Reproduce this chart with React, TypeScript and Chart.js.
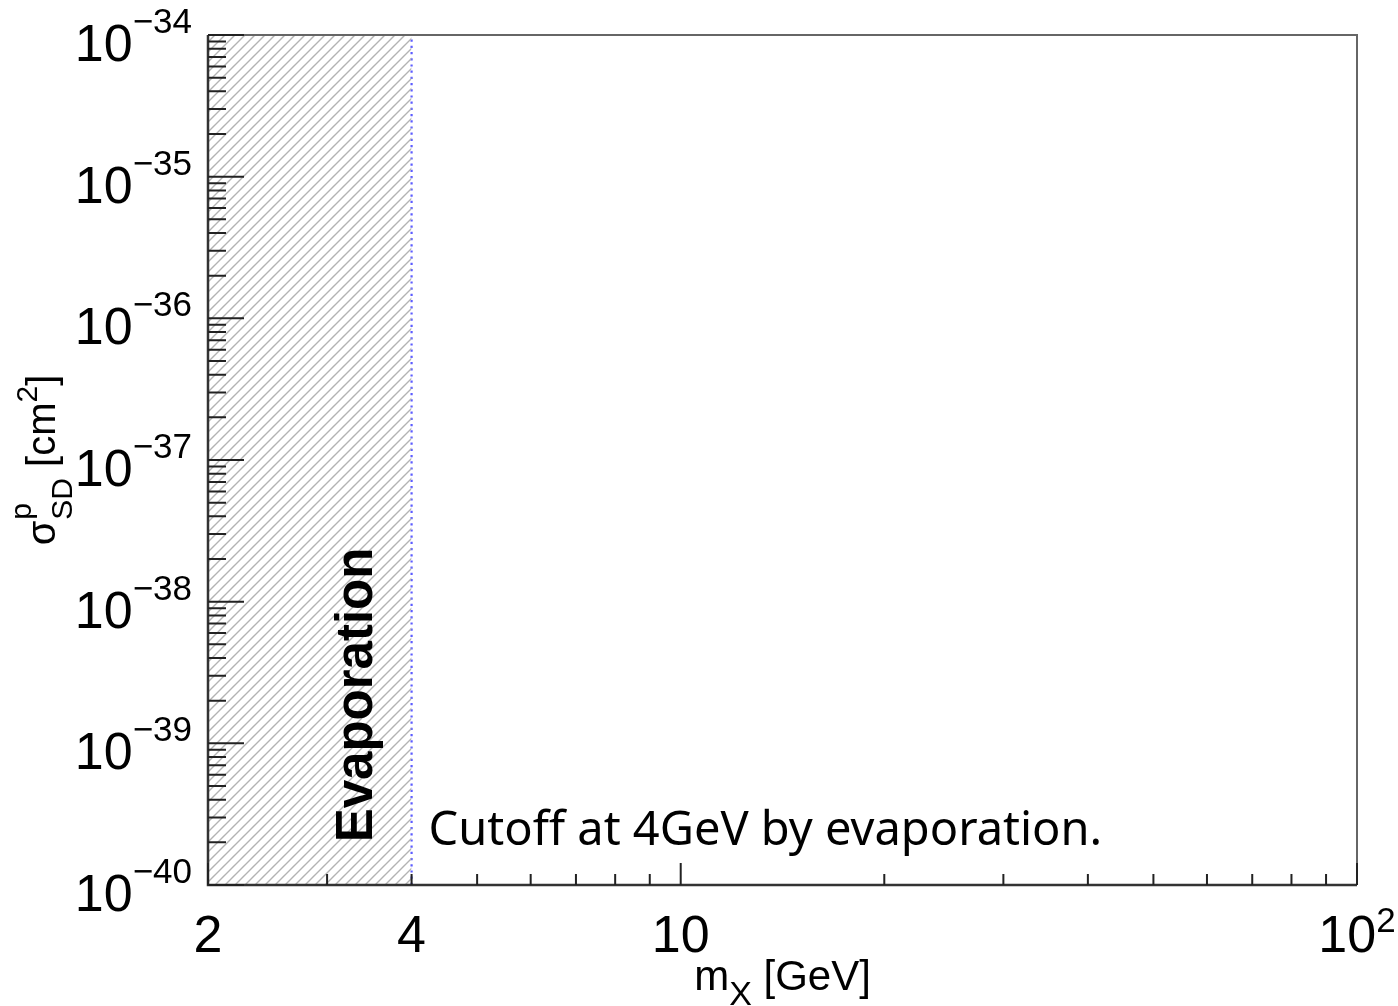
import React, { useEffect, useRef } from 'react';
import { Chart, registerables } from 'chart.js';

Chart.register(...registerables);

const CANVAS_W = 1398;
const CANVAS_H = 1006;

// ---- data ----
const massRange = [2, 100];
const sigmaRange = [1e-40, 1e-34];
const evaporationMass = [2, 4];
const evaporationSigma = [1e-34, 1e-34];
const cutoffMass = [4, 4];
const cutoffSigma = [1e-40, 1e-34];

const xMajorTicks = [2, 10, 100];
const xMinorTicks = [3, 4, 5, 6, 7, 8, 9, 20, 30, 40, 50, 60, 70, 80, 90];
const xLabelValues = [2, 4, 10, 100];
const xLabelBases = ['2', '4', '10', '10'];
const xLabelExponents = ['', '', '', '2'];

const yExponents = [-40, -39, -38, -37, -36, -35, -34];
const yMinorMantissas = [2, 3, 4, 5, 6, 7, 8, 9];

const evaporationLabel = 'Evaporation';
const cutoffNote = 'Cutoff at 4GeV by evaporation.';

const HELV = '"Liberation Sans", Arial, Helvetica, sans-serif';

function makeHatch(): CanvasPattern | string {
  const c = document.createElement('canvas');
  const s = 10;
  c.width = s;
  c.height = s;
  const g = c.getContext('2d');
  if (!g) return '#ddd';
  g.strokeStyle = '#b3b3b3';
  g.lineWidth = 1.4;
  g.beginPath();
  g.moveTo(0, s);
  g.lineTo(s, 0);
  g.moveTo(-2, 2);
  g.lineTo(2, -2);
  g.moveTo(s - 2, s + 2);
  g.lineTo(s + 2, s - 2);
  g.stroke();
  const p = g.createPattern(c, 'repeat');
  return p || '#ddd';
}

const rootStylePlugin = {
  id: 'rootStyle',
  afterDraw(chart: any) {
    const { ctx, chartArea: a, scales } = chart;
    const xs = scales.x;
    const ys = scales.y;
    ctx.save();

    // frame
    ctx.lineCap = 'butt';
    ctx.strokeStyle = '#666';
    ctx.lineWidth = 2;
    ctx.beginPath();
    ctx.moveTo(a.left, a.top);
    ctx.lineTo(a.right, a.top);
    ctx.lineTo(a.right, a.bottom);
    ctx.stroke();
    ctx.strokeStyle = '#333';
    ctx.lineWidth = 2.5;
    ctx.beginPath();
    ctx.moveTo(a.left, a.top);
    ctx.lineTo(a.left, a.bottom);
    ctx.lineTo(a.right, a.bottom);
    ctx.stroke();

    // ticks
    ctx.strokeStyle = '#222';
    ctx.lineWidth = 2;
    ctx.beginPath();
    yExponents.forEach((e) => {
      const py = ys.getPixelForValue(Math.pow(10, e));
      ctx.moveTo(a.left, py);
      ctx.lineTo(a.left + 36, py);
      if (e < yExponents[yExponents.length - 1]) {
        yMinorMantissas.forEach((m) => {
          const pm = ys.getPixelForValue(m * Math.pow(10, e));
          ctx.moveTo(a.left, pm);
          ctx.lineTo(a.left + 18, pm);
        });
      }
    });
    xMajorTicks.forEach((v) => {
      const px = xs.getPixelForValue(v);
      ctx.moveTo(px, a.bottom);
      ctx.lineTo(px, a.bottom - 22);
    });
    xMinorTicks.forEach((v) => {
      const px = xs.getPixelForValue(v);
      ctx.moveTo(px, a.bottom);
      ctx.lineTo(px, a.bottom - 11);
    });
    ctx.stroke();

    // y tick labels
    ctx.fillStyle = '#000';
    ctx.textBaseline = 'alphabetic';
    const labelRight = a.left - 16;
    yExponents.forEach((e) => {
      const py = ys.getPixelForValue(Math.pow(10, e));
      const sup = '\u2212' + Math.abs(e);
      ctx.font = `35px ${HELV}`;
      ctx.textAlign = 'right';
      const supW = ctx.measureText(sup).width;
      ctx.fillText(sup, labelRight, py - 2);
      ctx.font = `52px ${HELV}`;
      ctx.fillText('10', labelRight - supW, py + 26);
    });

    // x tick labels
    xLabelValues.forEach((v, i) => {
      const px = xs.getPixelForValue(v);
      const base = xLabelBases[i];
      const exp = xLabelExponents[i];
      ctx.textAlign = 'left';
      ctx.font = `52px ${HELV}`;
      const bw = ctx.measureText(base).width;
      ctx.font = `35px ${HELV}`;
      const ew = exp ? ctx.measureText(exp).width : 0;
      const start = px - (bw + ew) / 2;
      ctx.font = `52px ${HELV}`;
      ctx.fillText(base, start, a.bottom + 67);
      if (exp) {
        ctx.font = `35px ${HELV}`;
        ctx.fillText(exp, start + bw, a.bottom + 47);
      }
    });

    // x title: m_X [GeV]
    {
      const parts: [string, string, number][] = [
        ['m', `42px ${HELV}`, 0],
        ['X', `34px ${HELV}`, 15],
        [' [GeV]', `42px ${HELV}`, 0],
      ];
      let total = 0;
      const widths = parts.map(([t, f]) => {
        ctx.font = f;
        const w = ctx.measureText(t).width;
        total += w;
        return w;
      });
      let cx = (a.left + a.right) / 2 - total / 2;
      const base = a.bottom + 105;
      ctx.textAlign = 'left';
      parts.forEach(([t, f, dy], i) => {
        ctx.font = f;
        ctx.fillText(t, cx, base + dy);
        cx += widths[i];
      });
    }

    // y title: sigma^p_SD [cm^2]
    {
      const main = `40px ${HELV}`;
      const small = `30px ${HELV}`;
      ctx.font = main;
      const wSig = ctx.measureText('\u03c3').width;
      const wOpen = ctx.measureText(' [cm').width;
      const wClose = ctx.measureText(']').width;
      ctx.font = small;
      const wP = ctx.measureText('p').width;
      const wSD = ctx.measureText('SD').width;
      const w2 = ctx.measureText('2').width;
      const total = wSig + 1 + Math.max(wP, wSD) + wOpen + w2 + wClose;
      ctx.save();
      ctx.translate(55, (a.top + a.bottom) / 2);
      ctx.rotate(-Math.PI / 2);
      ctx.textAlign = 'left';
      let u = -total / 2;
      ctx.font = main;
      ctx.fillText('\u03c3', u, 0);
      u += wSig + 1;
      ctx.font = small;
      ctx.fillText('p', u, -24);
      ctx.fillText('SD', u, 17);
      u += Math.max(wP, wSD);
      ctx.font = main;
      ctx.fillText(' [cm', u, 0);
      u += wOpen;
      ctx.font = small;
      ctx.fillText('2', u, -18);
      u += w2;
      ctx.font = main;
      ctx.fillText(']', u, 0);
      ctx.restore();
    }

    // "Evaporation" label inside hatched band
    {
      const bx = xs.getPixelForValue(evaporationMass[1]) - 40;
      const by = (a.top + a.bottom) / 2 + 235;
      ctx.save();
      ctx.translate(bx, by);
      ctx.rotate(-Math.PI / 2);
      ctx.font = `bold 51px ${HELV}`;
      ctx.textAlign = 'center';
      ctx.fillStyle = '#000';
      ctx.fillText(evaporationLabel, 0, 0);
      ctx.restore();
    }

    // note
    {
      const nx = xs.getPixelForValue(cutoffMass[0]) + 17;
      ctx.font = `47px "Noto Sans", "Open Sans", sans-serif`;
      ctx.textAlign = 'left';
      ctx.fillStyle = '#000';
      ctx.fillText(cutoffNote, nx, a.bottom - 40);
    }

    ctx.restore();
  },
};

export default function App() {
  const ref = useRef<HTMLCanvasElement | null>(null);

  useEffect(() => {
    if (!ref.current) return;
    const hatch = makeHatch();
    const chart = new Chart(ref.current, {
      type: 'line',
      data: {
        datasets: [
          {
            label: 'Evaporation region',
            data: evaporationMass.map((m, i) => ({ x: m, y: evaporationSigma[i] })),
            fill: 'start',
            backgroundColor: hatch as any,
            borderColor: 'rgba(0,0,0,0)',
            borderWidth: 0,
            pointRadius: 0,
          },
          {
            label: 'Cutoff',
            data: cutoffMass.map((m, i) => ({ x: m, y: cutoffSigma[i] })),
            fill: false,
            borderColor: '#5c5cff',
            borderWidth: 2.2,
            borderDash: [2.2, 4],
            pointRadius: 0,
          },
        ],
      },
      options: {
        responsive: false,
        animation: false,
        layout: { padding: { left: 208, right: 41, top: 35, bottom: 121 } },
        plugins: {
          legend: { display: false },
          tooltip: { enabled: false },
        },
        scales: {
          x: { type: 'logarithmic', min: massRange[0], max: massRange[1], display: false },
          y: { type: 'logarithmic', min: sigmaRange[0], max: sigmaRange[1], display: false },
        },
      },
      plugins: [rootStylePlugin],
    });
    return () => chart.destroy();
  }, []);

  return (
    <div style={{ position: 'absolute', left: 0, top: 0, width: CANVAS_W, height: CANVAS_H, background: '#fff' }}>
      <canvas ref={ref} width={CANVAS_W} height={CANVAS_H} style={{ display: 'block' }} />
    </div>
  );
}
